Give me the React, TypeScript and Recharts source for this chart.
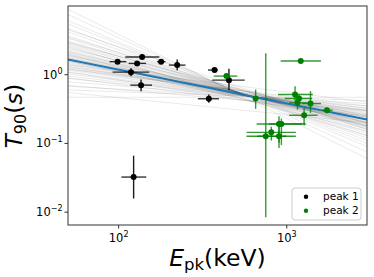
import React from 'react';
import { ComposedChart, Scatter, Line, XAxis, YAxis, ErrorBar } from 'recharts';

// ---- Data ----
const peak1E = [98.6, 138, 128.8, 179, 223, 118.5, 136, 372, 453, 344, 122.8];
const peak1T = [1.55, 1.81, 1.46, 1.55, 1.38, 1.09, 0.705, 1.17, 0.834, 0.447, 0.0324];
const peak1ELo = [88.4, 109.6, 114.7, 169, 199, 92, 117.4, 340, 360, 296, 103.8];
const peak1EHi = [111.2, 174.6, 145.6, 190, 250, 152, 158, 389, 562, 395, 146];
const peak1TLo = [1.52, 1.77, 1.43, 1.52, 1.16, 0.95, 0.577, 1.14, 0.596, 0.39, 0.0158];
const peak1THi = [1.58, 1.85, 1.49, 1.58, 1.67, 1.24, 0.853, 1.2, 1.22, 0.515, 0.0664];

const peak2E = [438, 653, 1211, 1120, 1183, 1158, 1384, 1733, 1268, 899, 929, 809, 750, 899];
const peak2T = [0.955, 0.451, 1.58, 0.515, 0.451, 0.39, 0.381, 0.304, 0.257, 0.192, 0.192, 0.145, 0.127, 0.127];
const peak2ELo = [368, 629, 920, 887, 972, 1033, 1242, 1618, 1033, 662, 783, 577, 576, 668];
const peak2EHi = [508, 678, 1596, 1429, 1416, 1330, 1596, 1874, 1524, 1297, 1239, 1132, 995, 1132];
const peak2TLo = [0.93, 0.319, 1.55, 0.412, 0.39, 0.311, 0.279, 0.298, 0.182, 0.102, 0.095, 0.11, 0.00845, 0.086];
const peak2THi = [0.98, 0.61, 1.62, 0.682, 0.515, 0.436, 0.576, 0.31, 0.33, 0.249, 0.23, 0.175, 2.05, 0.21];

// posterior sample lines: value at E = fanE[0] and at E = fanE[1]
const fanE = [50, 3000];
const fanLeft = [0.47, 0.6, 0.68, 0.79, 0.88, 0.95, 1.02, 1.08, 1.16, 1.22, 1.32, 1.38, 1.45, 1.5, 1.58, 1.66, 1.7, 1.78, 1.85, 1.93, 2.02, 2.1, 2.2, 2.3, 2.5, 2.7, 2.84, 3.1, 3.4, 3.7, 4.2, 4.7, 5.5, 6.1, 7.5, 9, 1.3, 1.9, 1.1, 2.4, 1.6, 0.9, 2.9, 1.2, 3.5, 2.0, 0.7, 4.5, 1.4, 2.6, 0.55, 1.75, 2.15, 1.25, 3.0, 1.55];
const fanRight = [0.47, 0.42, 0.38, 0.35, 0.33, 0.31, 0.3, 0.29, 0.28, 0.27, 0.26, 0.25, 0.24, 0.238, 0.23, 0.222, 0.22, 0.21, 0.205, 0.2, 0.195, 0.19, 0.185, 0.18, 0.175, 0.165, 0.16, 0.15, 0.14, 0.13, 0.12, 0.11, 0.1, 0.09, 0.075, 0.06, 0.32, 0.25, 0.22, 0.22, 0.18, 0.25, 0.2, 0.35, 0.17, 0.15, 0.3, 0.16, 0.4, 0.13, 0.2, 0.24, 0.2, 0.3, 0.18, 0.26];

// best-fit line
const fitE = [50, 3000];
const fitT = [1.66, 0.222];

const xTicks = [100, 1000];
const xTickExp = ['2', '3'];
const yTicks = [0.01, 0.1, 1];
const yTickExp = ['\u22122', '\u22121', '0'];

const legendLabels = ['peak 1', 'peak 2'];

const FONT = "'DejaVu Sans', sans-serif";
const BLACK = '#000000';
const GREEN = '#008000';
const BLUE = '#1f77b4';

function build(E: number[], T: number[], ELo: number[], EHi: number[], TLo: number[], THi: number[]) {
  return E.map((e, i) => ({
    e,
    t: T[i],
    ex: [e - ELo[i], EHi[i] - e],
    ey: [T[i] - TLo[i], THi[i] - T[i]],
  }));
}

const peak1 = build(peak1E, peak1T, peak1ELo, peak1EHi, peak1TLo, peak1THi);
const peak2 = build(peak2E, peak2T, peak2ELo, peak2EHi, peak2TLo, peak2THi);

const XTick = (props: any) => {
  const { x, y, payload } = props;
  const idx = xTicks.indexOf(payload.value);
  return (
    <text x={x} y={y + 11} textAnchor="middle" fontFamily={FONT} fontSize={11.5} fill="#000">
      10<tspan dy={-5} fontSize={8}>{xTickExp[idx]}</tspan>
    </text>
  );
};

const YTick = (props: any) => {
  const { x, y, payload } = props;
  const idx = yTicks.indexOf(payload.value);
  return (
    <text x={x} y={y + 4} textAnchor="end" fontFamily={FONT} fontSize={11.5} fill="#000">
      10<tspan dy={-5} fontSize={8}>{yTickExp[idx]}</tspan>
    </text>
  );
};

const dotShape = (color: string) => (props: any) => {
  const { cx, cy } = props;
  return <circle cx={cx} cy={cy} r={3} fill={color} />;
};

export default function App() {
  return (
    <div style={{ position: 'absolute', left: 0, top: 0, width: 374, height: 277, background: '#fff' }}>
      <ComposedChart width={374} height={277} margin={{ top: 6, right: 7, left: 0, bottom: 0 }}>
        <XAxis
          dataKey="e"
          type="number"
          scale="log"
          domain={[50, 3000]}
          allowDataOverflow
          ticks={xTicks}
          tick={<XTick />}
          tickSize={3.5}
          tickLine={{ stroke: '#333' }}
          axisLine={false}
          height={52}
        />
        <YAxis
          dataKey="t"
          type="number"
          scale="log"
          domain={[0.0065, 10]}
          allowDataOverflow
          ticks={yTicks}
          tick={<YTick />}
          tickSize={3.5}
          tickMargin={2}
          tickLine={{ stroke: '#333' }}
          axisLine={false}
          width={68}
        />
        {fanLeft.map((l, i) => (
          <Line
            key={'fan' + i}
            data={[{ e: fanE[0], t: l }, { e: fanE[1], t: fanRight[i] }]}
            dataKey="t"
            stroke="#000"
            strokeOpacity={0.085}
            strokeWidth={1}
            dot={false}
            activeDot={false}
            isAnimationActive={false}
            legendType="none"
          />
        ))}
        <Line
          data={[{ e: fitE[0], t: fitT[0] }, { e: fitE[1], t: fitT[1] }]}
          dataKey="t"
          stroke={BLUE}
          strokeWidth={2}
          dot={false}
          activeDot={false}
          isAnimationActive={false}
        />
        <Scatter data={peak1} dataKey="t" isAnimationActive={false} shape={dotShape(BLACK)}>
          <ErrorBar dataKey="ex" direction="x" width={0} stroke={BLACK} strokeOpacity={0.8} strokeWidth={1.4} isAnimationActive={false} />
          <ErrorBar dataKey="ey" direction="y" width={0} stroke={BLACK} strokeOpacity={0.9} strokeWidth={1.4} isAnimationActive={false} />
        </Scatter>
        <Scatter data={peak2} dataKey="t" isAnimationActive={false} shape={dotShape(GREEN)}>
          <ErrorBar dataKey="ex" direction="x" width={0} stroke={GREEN} strokeOpacity={0.8} strokeWidth={1.4} isAnimationActive={false} />
          <ErrorBar dataKey="ey" direction="y" width={0} stroke={GREEN} strokeOpacity={0.8} strokeWidth={1.4} isAnimationActive={false} />
        </Scatter>
      </ComposedChart>
      <svg width={374} height={277} style={{ position: 'absolute', left: 0, top: 0, pointerEvents: 'none' }}>
        <rect x={68} y={6} width={299} height={219} fill="none" stroke="#333" strokeWidth={1} />
        <text x={217.5} y={266} textAnchor="middle" fontFamily={FONT} fontSize={23.5} fill="#000">
          <tspan fontStyle="italic">E</tspan>
          <tspan fontSize={16.5} dy={4}>pk</tspan>
          <tspan dy={-4}>(keV)</tspan>
        </text>
        <text x={0} y={0} transform="translate(22,116) rotate(-90)" textAnchor="middle" fontFamily={FONT} fontSize={23} fill="#000">
          <tspan fontStyle="italic">T</tspan>
          <tspan fontSize={16} dy={4}>90</tspan>
          <tspan dy={-4}>(</tspan>
          <tspan fontStyle="italic">s</tspan>
          <tspan>)</tspan>
        </text>
        <rect x={292} y={188} width={69} height={32} rx={3} fill="#fff" fillOpacity={0.8} stroke="#ccc" strokeWidth={1} />
        <circle cx={306} cy={196.7} r={2.2} fill={BLACK} />
        <text x={323} y={200.2} fontFamily={FONT} fontSize={10.5} fill="#000">{legendLabels[0]}</text>
        <circle cx={306} cy={210.7} r={2.2} fill={GREEN} />
        <text x={323} y={214.2} fontFamily={FONT} fontSize={10.5} fill="#000">{legendLabels[1]}</text>
      </svg>
    </div>
  );
}
